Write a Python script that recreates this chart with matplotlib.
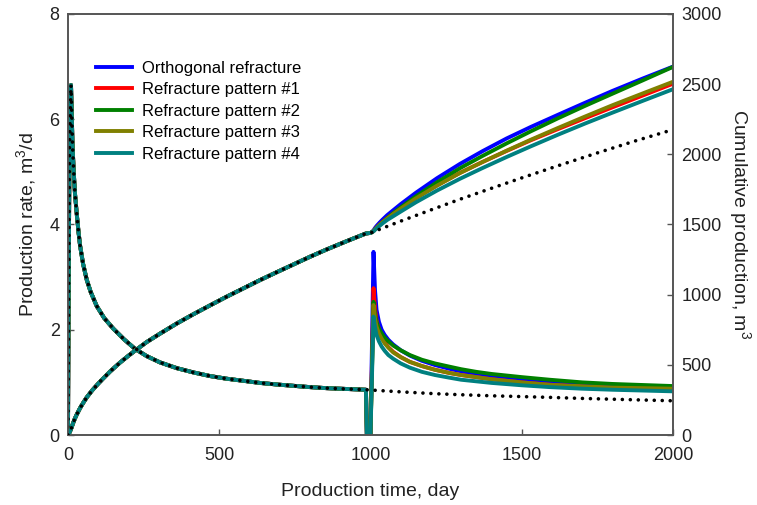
import matplotlib
matplotlib.use("Agg")
import matplotlib.pyplot as plt

plt.rcParams['font.family'] = ['Liberation Sans', 'DejaVu Sans']
plt.rcParams['mathtext.fontset'] = 'custom'
plt.rcParams['mathtext.rm'] = 'Liberation Sans'
plt.rcParams['mathtext.it'] = 'Liberation Sans:italic'

# ---------------- data ----------------
series_names = ["Orthogonal refracture", "Refracture pattern #1", "Refracture pattern #2",
                "Refracture pattern #3", "Refracture pattern #4"]
series_colors = ["#0000FF", "#FF0000", "#008000", "#808000", "#008080"]

# production rate before refracture (shared by all cases), m3/d
t_rate_pre = [0, 2, 5, 10, 12, 15, 19, 23, 29, 35, 40, 50, 62, 75, 95, 120, 150, 185, 221, 260,
              304, 360, 414, 470, 524, 580, 634, 690, 745, 800, 855, 920, 985]
rate_pre = [0, 2.5, 5.5, 6.65, 6.2, 5.5, 5.0, 4.6, 4.2, 3.85, 3.6, 3.25, 2.95, 2.72, 2.45, 2.22,
            2.02, 1.82, 1.64, 1.5, 1.38, 1.27, 1.19, 1.12, 1.07, 1.03, 0.99, 0.96, 0.935, 0.91,
            0.89, 0.875, 0.86]

# shut-in before refracture
t_rate_shut = [988, 1000]
rate_shut = [0, 0]

# after refracture
t_rate_post = [1010, 1015, 1020, 1028, 1037, 1047, 1059, 1075, 1100, 1130, 1170, 1213, 1260,
               1300, 1350, 1400, 1500, 1593, 1700, 1800, 1900, 2000]
rate_orth = [3.48, 2.75, 2.38, 2.15, 2.0, 1.9, 1.81, 1.72, 1.61, 1.51, 1.41, 1.33, 1.26, 1.21,
             1.16, 1.12, 1.05, 1.00, 0.96, 0.935, 0.915, 0.90]
rate_p1 = [2.79, 2.40, 2.18, 2.0, 1.86, 1.76, 1.67, 1.58, 1.48, 1.39, 1.31, 1.24, 1.18, 1.14,
           1.10, 1.06, 1.00, 0.955, 0.92, 0.895, 0.88, 0.87]
rate_p2 = [2.53, 2.30, 2.15, 2.02, 1.93, 1.85, 1.78, 1.70, 1.61, 1.52, 1.43, 1.36, 1.30, 1.25,
           1.20, 1.16, 1.10, 1.05, 1.00, 0.97, 0.95, 0.93]
rate_p3 = [2.47, 2.22, 2.06, 1.93, 1.83, 1.74, 1.66, 1.57, 1.48, 1.39, 1.31, 1.24, 1.18, 1.14,
           1.10, 1.06, 1.00, 0.955, 0.925, 0.90, 0.89, 0.88]
rate_p4 = [2.25, 2.05, 1.90, 1.78, 1.68, 1.60, 1.52, 1.45, 1.36, 1.28, 1.20, 1.14, 1.09, 1.05,
           1.02, 0.99, 0.945, 0.91, 0.88, 0.86, 0.845, 0.83]

# base case (no refracture) after day 1000
t_rate_base_post = [1000, 1100, 1213, 1300, 1400, 1500, 1593, 1700, 1800, 1900, 2000]
rate_base_post = [0.855, 0.82, 0.785, 0.765, 0.745, 0.73, 0.715, 0.695, 0.68, 0.665, 0.65]

# cumulative production before refracture, m3
t_cum_pre = [0, 3, 6, 10, 17, 23, 29, 40, 50, 62, 80, 100, 116, 140, 172, 200, 221, 260, 304,
             360, 414, 470, 524, 580, 634, 690, 745, 800, 855, 920, 985]
cum_pre = [0, 8, 22, 42, 85, 118, 146, 192, 228, 268, 318, 366, 402, 454, 516, 565, 600, 662,
           722, 795, 860, 924, 985, 1045, 1103, 1160, 1215, 1270, 1322, 1380, 1436]

t_cum_shut = [1000]
cum_shut = [1440]

t_cum_post = [1005, 1010, 1015, 1020, 1030, 1040, 1055, 1076, 1100, 1150, 1220, 1296, 1370,
              1450, 1530, 1620, 1710, 1800, 1900, 2000]
cum_orth = [1447, 1458, 1475, 1489, 1513, 1535, 1566, 1603, 1645, 1726, 1830, 1932, 2022, 2113,
            2195, 2282, 2368, 2452, 2540, 2625]
cum_p1 = [1446, 1454, 1467, 1478, 1499, 1518, 1545, 1580, 1617, 1689, 1779, 1868, 1945, 2024,
          2100, 2180, 2258, 2335, 2419, 2503]
cum_p2 = [1446, 1453, 1465, 1476, 1497, 1517, 1545, 1582, 1622, 1700, 1801, 1901, 1988, 2078,
          2164, 2257, 2346, 2432, 2527, 2623]
cum_p3 = [1446, 1453, 1465, 1476, 1497, 1515, 1541, 1576, 1613, 1686, 1777, 1867, 1945, 2026,
          2104, 2188, 2270, 2350, 2434, 2517]
cum_p4 = [1445, 1451, 1462, 1472, 1490, 1508, 1532, 1560, 1592, 1658, 1742, 1826, 1902, 1981,
          2057, 2140, 2220, 2297, 2381, 2464]

t_cum_base_post = [1000, 1100, 1200, 1296, 1400, 1500, 1626, 1750, 1870, 2000]
cum_base_post = [1440, 1524, 1604, 1680, 1758, 1832, 1923, 2010, 2092, 2176]

x_ticks = [0, 500, 1000, 1500, 2000]
y_left_ticks = [0, 2, 4, 6, 8]
y_right_ticks = [0, 500, 1000, 1500, 2000, 2500, 3000]

rate_post_all = [rate_orth, rate_p1, rate_p2, rate_p3, rate_p4]
cum_post_all = [cum_orth, cum_p1, cum_p2, cum_p3, cum_p4]

# ---------------- figure ----------------
fig = plt.figure(figsize=(7.57, 5.05), dpi=100)
ax = fig.add_axes([0.0898, 0.1386, 0.7992, 0.8337])
ax2 = ax.twinx()

lw = 2.8
dot_style = dict(color='black', lw=2.6, linestyle=(0, (0.01, 2.2)), dash_capstyle='round', zorder=10)

handles = []
for name, col, rp, cp in zip(series_names, series_colors, rate_post_all, cum_post_all):
    t_r = t_rate_pre + t_rate_shut + t_rate_post
    r = rate_pre + rate_shut + rp
    ax.plot(t_r, r, color=col, lw=lw, solid_joinstyle='round')
    t_c = t_cum_pre + t_cum_shut + t_cum_post
    c = cum_pre + cum_shut + cp
    h, = ax2.plot(t_c, c, color=col, lw=lw, label=name, solid_joinstyle='round')
    handles.append(h)

ax.plot(t_rate_pre + t_rate_base_post, rate_pre + rate_base_post, **dot_style)
ax2.plot(t_cum_pre + t_cum_base_post, cum_pre + cum_base_post, **dot_style)

ax.set_xlim(0, 2000)
ax.set_ylim(0, 8)
ax2.set_ylim(0, 3000)
ax.set_xticks(x_ticks)
ax.set_yticks(y_left_ticks)
ax2.set_yticks(y_right_ticks)

spine_col = '#555555'
text_col = '#222222'
for a in (ax, ax2):
    for s in a.spines.values():
        s.set_color(spine_col)
        s.set_linewidth(1.2)
ax.tick_params(axis='both', direction='in', length=4, width=1, colors=spine_col,
               labelcolor=text_col, labelsize=13)
ax.tick_params(axis='y', pad=6, right=False)
ax.tick_params(axis='x', pad=8.5, top=False)
ax2.tick_params(axis='y', direction='in', length=4, width=1, colors=spine_col,
                labelcolor=text_col, labelsize=13, pad=6)

ax.set_xlabel("Production time, day", fontsize=14, color=text_col)
ax.set_ylabel("Production rate, m$^{\\mathregular{3}}$/d", fontsize=14, color=text_col)
ax2.set_ylabel("Cumulative production, m$^{\\mathregular{3}}$", fontsize=14, color=text_col,
               rotation=270, va='bottom')
ax.xaxis.set_label_coords(0.5, -0.115)
ax.yaxis.set_label_coords(-0.05, 0.5)
ax2.yaxis.set_label_coords(1.089, 0.5)

ax2.legend(handles=handles, loc='upper left', bbox_to_anchor=(0.046, 0.889), frameon=False,
           borderpad=0, borderaxespad=0, handlelength=2.2, handletextpad=0.55,
           labelspacing=0.39, fontsize=12)

fig.savefig("out.png", dpi=100, facecolor='white')
